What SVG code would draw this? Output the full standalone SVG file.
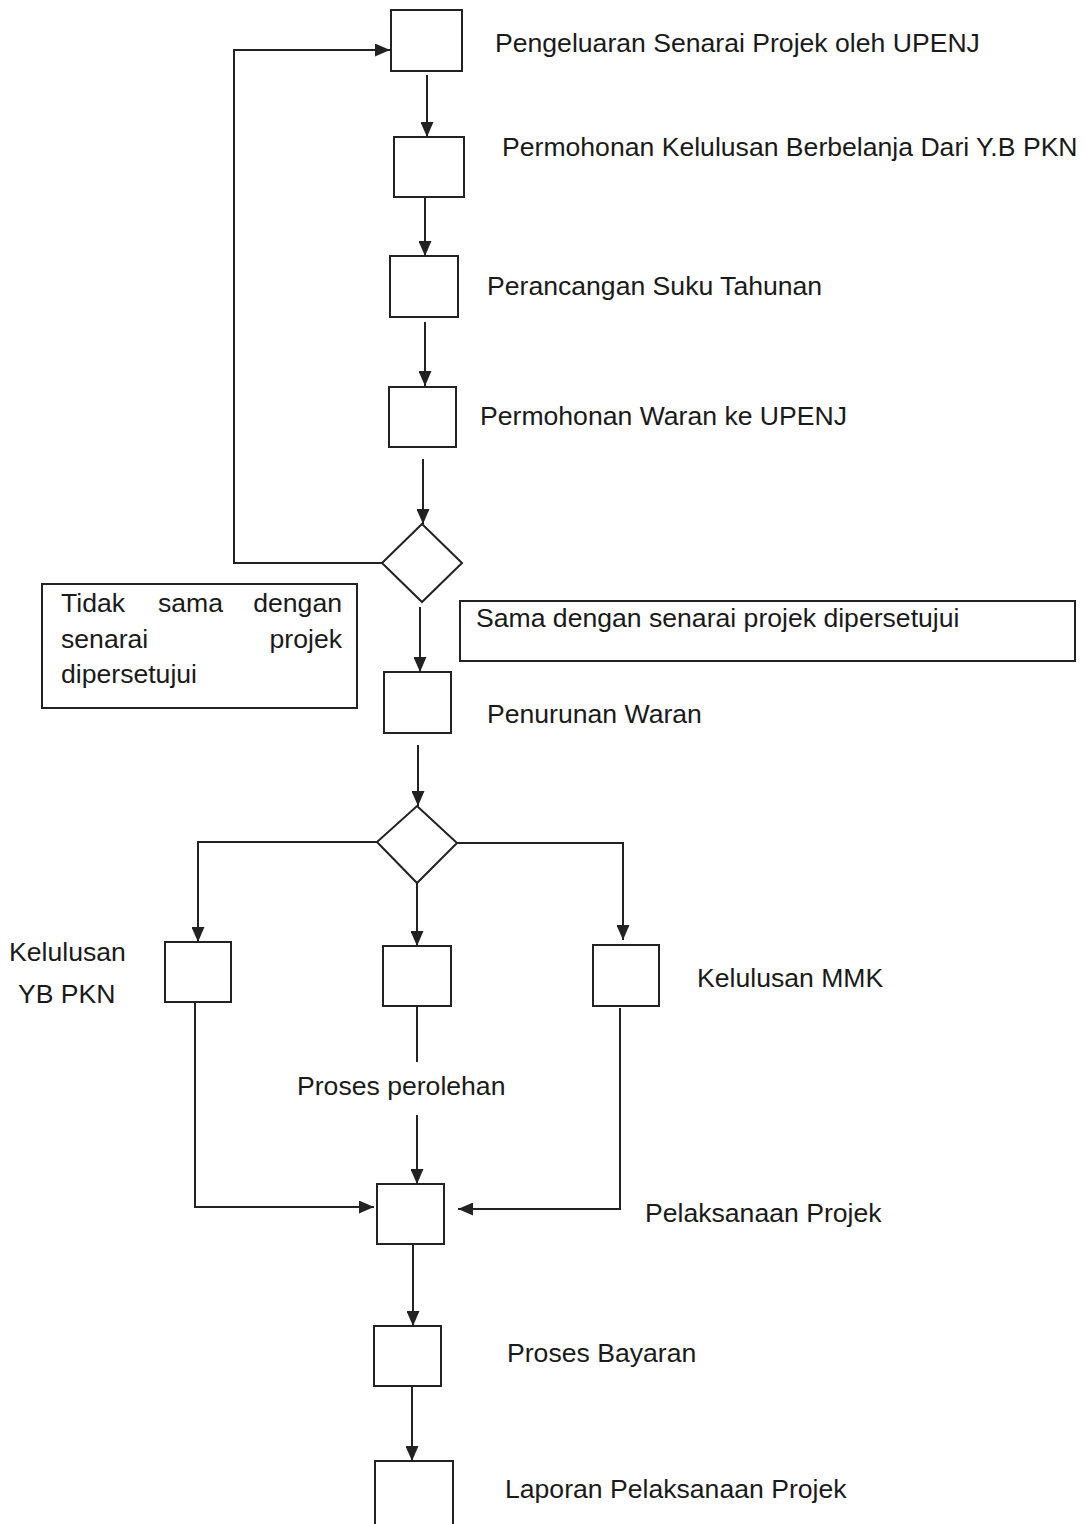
<svg xmlns="http://www.w3.org/2000/svg" width="1085" height="1524" viewBox="0 0 1085 1524">
<style>
.n{fill:#fff;stroke:#222;stroke-width:2}
.c{fill:none;stroke:#222;stroke-width:2}
.t{font-family:"Liberation Sans",Arial,sans-serif;font-size:26.6px;fill:#1a1a1a}
</style>
<defs>
<marker id="ah" markerUnits="userSpaceOnUse" markerWidth="15" markerHeight="13" refX="15" refY="6.5" orient="auto" viewBox="0 0 15 13">
<path d="M0,0 L15,6.5 L0,13 z" fill="#222"/>
</marker>
</defs>
<rect width="1085" height="1524" fill="#fff"/>
<g id="connectors">
<path class="c" d="M427,75 V137" marker-end="url(#ah)"/>
<path class="c" d="M425,198 V256" marker-end="url(#ah)"/>
<path class="c" d="M425,322 V386" marker-end="url(#ah)"/>
<path class="c" d="M423,459 V524" marker-end="url(#ah)"/>
<path class="c" d="M382,563 H234 V50 H390" marker-end="url(#ah)"/>
<path class="c" d="M420,607 V672" marker-end="url(#ah)"/>
<path class="c" d="M418,745 V806" marker-end="url(#ah)"/>
<path class="c" d="M377,842 H198 V942" marker-end="url(#ah)"/>
<path class="c" d="M417,883 V946" marker-end="url(#ah)"/>
<path class="c" d="M457,843 H623 V940" marker-end="url(#ah)"/>
<path class="c" d="M195,1002 V1207 H374" marker-end="url(#ah)"/>
<path class="c" d="M417,1006 V1062"/>
<path class="c" d="M417,1115 V1184" marker-end="url(#ah)"/>
<path class="c" d="M620,1008 V1209 H458" marker-end="url(#ah)"/>
<path class="c" d="M413,1244 V1326" marker-end="url(#ah)"/>
<path class="c" d="M412,1386 V1461" marker-end="url(#ah)"/>
</g>
<g id="n1"><rect class="n" x="391" y="10" width="71" height="61"/><text class="t" x="495" y="52">Pengeluaran Senarai Projek oleh UPENJ</text></g>
<g id="n2"><rect class="n" x="394" y="137" width="70" height="60"/><text class="t" x="502" y="156">Permohonan Kelulusan Berbelanja Dari Y.B PKN</text></g>
<g id="n3"><rect class="n" x="390" y="256" width="68" height="61"/><text class="t" x="487" y="295">Perancangan Suku Tahunan</text></g>
<g id="n4"><rect class="n" x="389" y="387" width="67" height="60"/><text class="t" x="480" y="425">Permohonan Waran ke UPENJ</text></g>
<g id="d1"><polygon class="n" points="422,524 462,563 422,602 382,563"/></g>
<g id="lbl-tidak"><rect class="n" x="42" y="584" width="315" height="124"/>
<text class="t"><tspan x="61" y="612">Tidak</tspan><tspan x="158" y="612">sama</tspan><tspan x="342" y="612" text-anchor="end">dengan</tspan><tspan x="61" y="648">senarai</tspan><tspan x="342" y="648" text-anchor="end">projek</tspan><tspan x="61" y="683">dipersetujui</tspan></text></g>
<g id="lbl-sama"><rect class="n" x="460" y="601" width="615" height="60"/><text class="t" x="476" y="627">Sama dengan senarai projek dipersetujui</text></g>
<g id="n5"><rect class="n" x="384" y="672" width="67" height="61"/><text class="t" x="487" y="723">Penurunan Waran</text></g>
<g id="d2"><polygon class="n" points="417,806 457,843 417,883 377,842"/></g>
<g id="n6"><rect class="n" x="165" y="942" width="66" height="60"/><text class="t"><tspan x="9" y="961">Kelulusan</tspan><tspan x="18" y="1003">YB PKN</tspan></text></g>
<g id="n7"><rect class="n" x="383" y="946" width="68" height="60"/><text class="t" x="297" y="1095">Proses perolehan</text></g>
<g id="n8"><rect class="n" x="593" y="945" width="66" height="61"/><text class="t" x="697" y="987">Kelulusan MMK</text></g>
<g id="n9"><rect class="n" x="377" y="1184" width="67" height="60"/><text class="t" x="645" y="1222">Pelaksanaan Projek</text></g>
<g id="n10"><rect class="n" x="374" y="1326" width="67" height="60"/><text class="t" x="507" y="1362">Proses Bayaran</text></g>
<g id="n11"><rect class="n" x="375" y="1461" width="78" height="80"/><text class="t" x="505" y="1498">Laporan Pelaksanaan Projek</text></g>
</svg>
